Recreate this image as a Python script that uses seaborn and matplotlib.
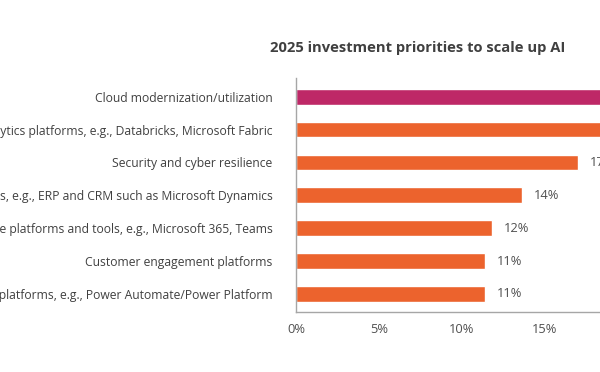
import matplotlib
matplotlib.use("Agg")
import matplotlib.pyplot as plt
import seaborn as sns
import pandas as pd

categories = [
    "Cloud modernization/utilization",
    "Data and analytics platforms, e.g., Databricks, Microsoft Fabric",
    "Security and cyber resilience",
    "Business applications, e.g., ERP and CRM such as Microsoft Dynamics",
    "Modern workplace platforms and tools, e.g., Microsoft 365, Teams",
    "Customer engagement platforms",
    "Process automation platforms, e.g., Power Automate/Power Platform",
]
values = [25, 21, 17.0, 13.6, 11.8, 11.4, 11.4]
highlight = ["top", "other", "other", "other", "other", "other", "other"]
x_ticks = [0, 5, 10, 15, 20, 25, 30]

sns.set_style("white")
plt.rcParams["font.family"] = ["Open Sans", "DejaVu Sans"]

df = pd.DataFrame({"category": categories, "value": values, "group": highlight})

fig = plt.figure(figsize=(6, 3.72), dpi=100)
# axes deliberately wider than the figure: the view is a crop of a wider chart
ax = fig.add_axes([296 / 600, 60 / 372, 498 / 600, 234 / 372])

sns.barplot(data=df, x="value", y="category", hue="group",
            palette={"top": "#BE2867", "other": "#EC632D"}, saturation=1,
            width=0.48, dodge=False, legend=False, ax=ax)

for i, v in enumerate(values):
    ax.text(v + 0.7, i, f"{round(v)}%", va="center", ha="left", fontsize=9.3, color="#505050")

ax.set_xlim(0, 30)
ax.set_ylim(6.55, -0.57)
ax.set_xticks(x_ticks)
ax.set_xticklabels([f"{t}%" for t in x_ticks])
ax.set_xlabel("")
ax.set_ylabel("")
ax.tick_params(axis="y", length=0, pad=17, labelsize=8.7, labelcolor="#404040")
ax.tick_params(axis="x", length=0, pad=8, labelsize=9.3, labelcolor="#505050")
for s in ["top", "right"]:
    ax.spines[s].set_visible(False)
for s in ["left", "bottom"]:
    ax.spines[s].set_color("#a6a6a6")
    ax.spines[s].set_linewidth(1)

fig.text(418 / 600, 1 - 48 / 372, "2025 investment priorities to scale up AI",
         ha="center", va="center", fontsize=10.6, fontweight="bold", color="#404040")

fig.savefig("out.png", dpi=100)
